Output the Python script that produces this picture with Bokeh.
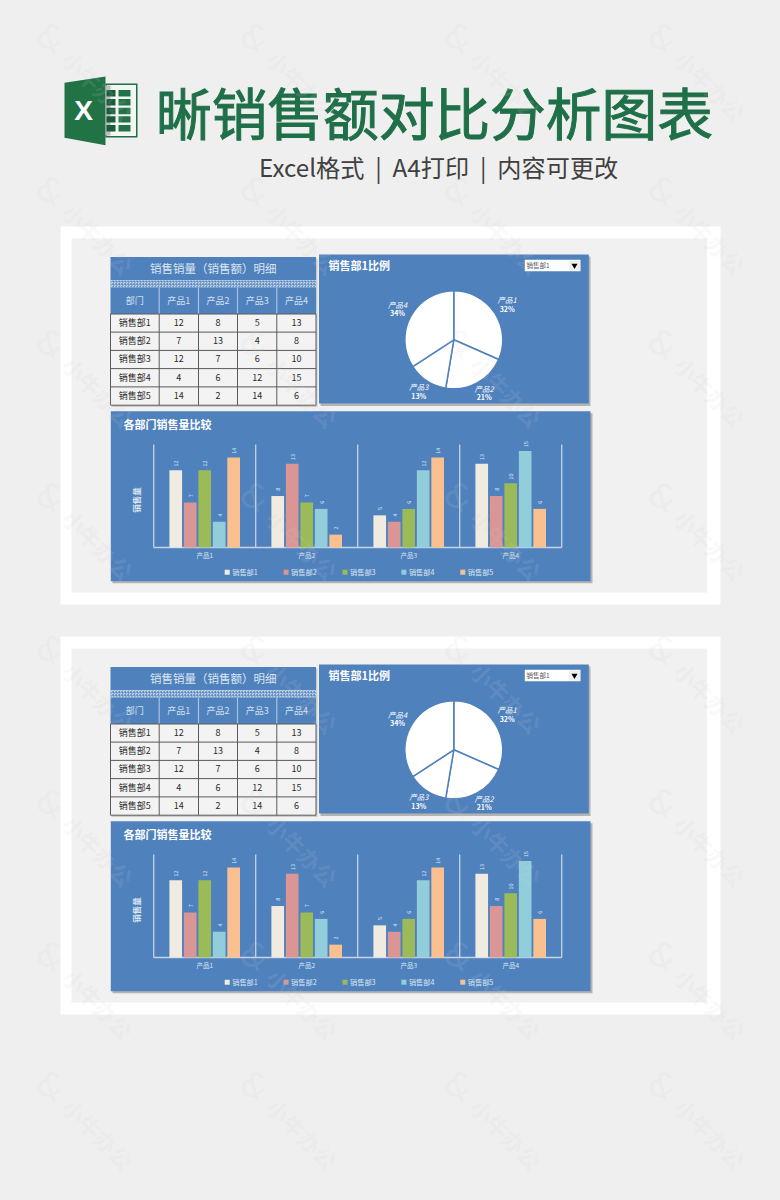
from math import pi
from bokeh.plotting import figure
from bokeh.embed import file_html
from bokeh.resources import INLINE
from bokeh.models import Range1d
from bokeh.core.properties import value

departments = ["销售部1", "销售部2", "销售部3", "销售部4", "销售部5"]
products = ["产品1", "产品2", "产品3", "产品4"]
dept1 = [12, 8, 5, 13]
dept2 = [7, 13, 4, 8]
dept3 = [12, 7, 6, 10]
dept4 = [4, 6, 12, 15]
dept5 = [14, 2, 14, 6]
series = [dept1, dept2, dept3, dept4, dept5]
series_colors = ["#EFEBE0", "#D99694", "#9BBB59", "#92CDDC", "#FAC090"]

title_text = "晰销售额对比分析图表"
subtitle_text = "Excel格式\u00a0\u00a0|\u00a0\u00a0A4打印\u00a0\u00a0|\u00a0\u00a0内容可更改"
table_title = "销售销量（销售额）明细"
pie_title = "销售部1比例"
bar_title = "各部门销售量比较"
y_title = "销售量"
dept_header = "部门"
watermark = "小牛办公"

BLUE = "#4F81BD"
BG = "#EFEFEF"
FONT = value("Noto Sans CJK SC")
LIGHT = "#DCE6F1"

X0, X1, Y0, Y1 = 0, 764, 0, 1184
p = figure(width=X1 - X0, height=Y1 - Y0, x_range=Range1d(X0, X1), y_range=Range1d(Y1, Y0),
           toolbar_location=None, output_backend="svg", min_border=0,
           x_axis_location=None, y_axis_location=None,
           background_fill_color=BG, border_fill_color=BG, outline_line_color=None)
p.grid.visible = False


def box(l, r, t, b, color, **kw):
    p.quad(left=[l], right=[r], top=[t], bottom=[b], fill_color=color, line_color=None, **kw)


def label(x, y, s, size, color, align="center", angle=0, style="normal", **kw):
    yy = y - 0.08 * size if angle == 0 else y
    p.text(x=[x], y=[yy], text=[s], text_font=FONT, text_font_size=f"{size}px", text_color=color,
           text_align=align, text_baseline="middle", angle=angle, text_font_style=style, **kw)


# ---------- header ----------
p.patch([64, 105, 105, 64], [82.3, 76, 144.7, 137.3], fill_color="#217346", line_color=None)
box(105, 137, 83, 137, "#1F6F48")
box(106.5, 135.5, 84.5, 135.5, "#F4F6F4")
box(105, 110, 85, 135, "#BDBDBD")
for r_top in [89.5, 98.5, 107.3, 115.7, 124.5]:
    box(106, 115, r_top, r_top + 6.4, "#185C3A")
    box(118, 130, r_top, r_top + 6.4, "#217346")
p.text(x=[83], y=[110], text=["X"], text_font=value("Liberation Sans"), text_font_size="28px",
       text_font_style="bold", text_color="white", text_align="center", text_baseline="middle")
label(155.5, 114.5, title_text, 55.7, "#1F7048", align="left", text_outline_color="#1F7048")
label(258.5, 168, subtitle_text, 24.2, "#404040", align="left")

# ---------- two identical sheets ----------
BAR_BASE = [547, 957]
PX_PER_UNIT = 96.5 / 15
GROUP_PX = 102.0
GROUP_X0 = 153.2
p.extra_x_ranges["groups"] = Range1d((X0 - GROUP_X0) / GROUP_PX, (X1 - GROUP_X0) / GROUP_PX)
for i, base in enumerate(BAR_BASE):
    p.extra_y_ranges[f"vals{i}"] = Range1d((base - Y1) / PX_PER_UNIT, (base - Y0) / PX_PER_UNIT)

col_edges = [110, 158.7, 198, 237, 276.3, 315.5]
row_edges = [313.5, 331.6, 349.9, 368.1, 386.4, 404.7]

for i, dy in enumerate([0, 410]):
    # sheet background
    box(60, 720, 226 + dy, 604 + dy, "#FFFFFF")
    box(71, 706.5, 238 + dy, 592 + dy, "#F1F1F1")

    # table
    box(111, 317, 258 + dy, 406.5 + dy, "#A8A8A8", fill_alpha=0.5)
    box(110, 315.5, 256.5 + dy, 280 + dy, BLUE)
    label(212.7, 268 + dy, table_title, 11.5, LIGHT)
    box(110, 315.5, 280 + dy, 287 + dy, "#FFFFFF")
    p.quad(left=[110], right=[315.5], top=[280 + dy], bottom=[287 + dy], fill_color="#C3D4E9",
           line_color=None, hatch_pattern="criss_cross", hatch_color=BLUE, hatch_scale=3, hatch_alpha=0.5)
    box(110, 315.5, 287 + dy, 313.5 + dy, BLUE)
    box(110, 315.5, 313.5 + dy, 404.7 + dy, "#F3F3F3")
    headers = [dept_header] + products
    for c, h in enumerate(headers):
        label((col_edges[c] + col_edges[c + 1]) / 2, 300.5 + dy, h, 9, "#D6E2F0")
    for c in col_edges[1:-1]:
        p.segment([c], [287 + dy], [c], [313.5 + dy], line_color="#A9C0DE", line_width=1.2)
    for c in col_edges:
        p.segment([c], [313.5 + dy], [c], [404.7 + dy], line_color="#5A5A5A", line_width=1)
    for r in row_edges:
        p.segment([110], [r + dy], [315.5], [r + dy], line_color="#5A5A5A", line_width=1)
    for r, (dept, vals) in enumerate(zip(departments, series)):
        cy = (row_edges[r] + row_edges[r + 1]) / 2 + dy
        label((col_edges[0] + col_edges[1]) / 2, cy, dept, 9, "#2A2A2A")
        for c, v in enumerate(vals):
            label((col_edges[c + 1] + col_edges[c + 2]) / 2, cy, str(v), 9, "#2A2A2A")

    # pie panel
    box(320, 590, 256 + dy, 405.5 + dy, "#9A9A9A", fill_alpha=0.7)
    box(318.5, 588.3, 254 + dy, 403 + dy, BLUE)
    label(328, 265 + dy, pie_title, 11, "#FFFFFF", align="left", style="bold")
    box(524.3, 580, 259.3 + dy, 270.7 + dy, "#FFFFFF")
    label(526, 265 + dy, departments[0], 6.5, "#555555", align="left")
    box(568.3, 579.5, 259.8 + dy, 270.2 + dy, "#F0F0F0")
    p.scatter([574], [265 + dy], marker="inverted_triangle", size=6, fill_color="#000000", line_color=None)
    total = sum(dept1)
    start = pi / 2
    pie_lab = [(506.7, 300), (483.7, 388.3), (418.3, 386.7), (397, 304.3)]
    for name, v, (lx, ly) in zip(products, dept1, pie_lab):
        end = start - 2 * pi * v / total
        p.wedge(x=[453.3], y=[339.3 + dy], radius=49, start_angle=[end], end_angle=[start],
                direction="anticlock", fill_color="#FFFFFF", line_color=BLUE, line_width=1.5)
        start = end
        label(lx, ly + dy, name, 7.5, "#FFFFFF", style="italic")
        label(lx, ly + 9.2 + dy, f"{round(100 * v / total)}%", 7, "#FFFFFF", style="bold")

    # bar panel
    base = BAR_BASE[i]
    box(112, 592, 412.7 + dy, 582.7 + dy, "#9A9A9A", fill_alpha=0.7)
    box(110.3, 590, 410.7 + dy, 580.7 + dy, BLUE)
    label(123, 424 + dy, bar_title, 11, "#FFFFFF", align="left", style="bold")
    label(135, 499.5 + dy, y_title, 8.5, LIGHT, angle=pi / 2, style="bold")
    yr = f"vals{i}"
    n_groups = len(products)
    for g in range(n_groups + 1):
        p.segment([g], [0], [g], [16], x_range_name="groups", y_range_name=yr,
                  line_color="#C5D3E6", line_width=1.3)
    p.segment([0], [0], [n_groups], [0], x_range_name="groups", y_range_name=yr,
              line_color="#C5D3E6", line_width=1.5)
    step, width = 0.142, 0.124
    for s, (vals, color) in enumerate(zip(series, series_colors)):
        xs = [g + 0.5 + (s - 2) * step for g in range(n_groups)]
        p.vbar(x=xs, top=vals, bottom=0, width=width, fill_color=color, line_color=None,
               x_range_name="groups", y_range_name=yr)
        p.text(x=xs, y=[v + 1.05 for v in vals], text=[str(v) for v in vals], text_font=FONT,
               text_font_size="5.5px", text_color=LIGHT, text_align="center", text_baseline="middle",
               angle=pi / 2, x_range_name="groups", y_range_name=yr)
    for g, name in enumerate(products):
        label(GROUP_X0 + (g + 0.5) * GROUP_PX, 555 + dy, name, 6.5, LIGHT)
    for s, (dept, color) in enumerate(zip(departments, series_colors)):
        lx = 226.7 + s * 58.9
        box(lx - 2.5, lx + 2.5, 569.2 + dy, 574.2 + dy, color)
        label(lx + 5, 571.7 + dy, dept, 7.2, LIGHT, align="left")

# ---------- watermark ----------
for wx in [50, 254, 458, 662]:
    for wy in [37, 190, 343, 496, 649, 802, 955, 1085]:
        p.text(x=[wx], y=[wy], text=["&"], text_font=value("DejaVu Sans"), text_font_size="34px",
               text_color="#CFCFCF", text_alpha=0.15, text_align="center", text_baseline="middle", angle=-0.5)
        p.text(x=[wx + 48], y=[wy + 48], text=[watermark], text_font=FONT, text_font_size="22px",
               text_font_style="bold", text_color="#CFCFCF", text_alpha=0.15, text_align="center",
               text_baseline="middle", angle=-pi / 4)

html = file_html(p, INLINE)
html = html.replace("<head>", "<head><style>html,body{background:#EFEFEF}</style>", 1)
open("out.html", "w").write(html)
